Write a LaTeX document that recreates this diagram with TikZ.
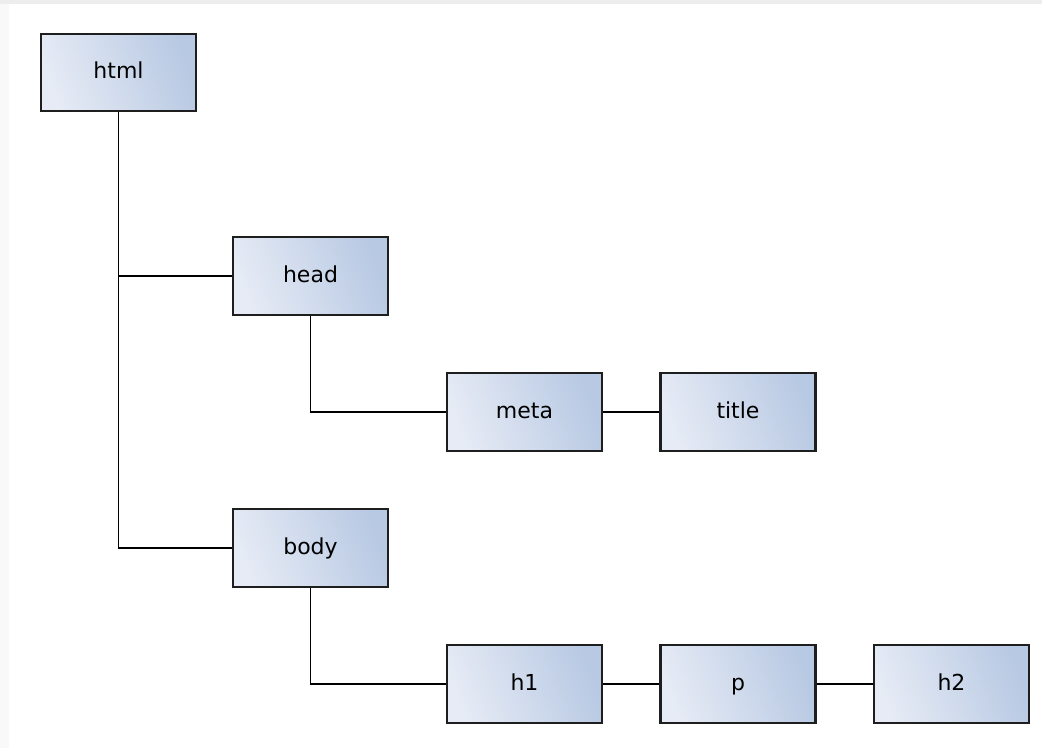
\documentclass[tikz,border=0pt]{standalone}
\usepackage{fontspec}
\setmainfont{DejaVu Sans}
\usetikzlibrary{positioning}
\definecolor{boxlight}{RGB}{230,235,245}
\definecolor{boxdark}{RGB}{184,201,227}
\definecolor{edgegray}{RGB}{30,30,30}

\begin{document}
\begin{tikzpicture}[x=0.75pt,y=-0.75pt,
  tag/.style={draw=edgegray,line width=1.6pt,minimum width=116.25pt,minimum height=58pt,
    inner sep=0pt,shading=axis,left color=boxlight,right color=boxdark,shading angle=110,
    text height=1.95ex,text depth=.2ex,
    font=\fontsize{16.5}{18}\selectfont},
  wire/.style={line width=1.1pt,black}]
\useasboundingbox (0,0) rectangle (1042,748);
\fill[white] (0,0) rectangle (1042,748);
\fill[gray!14] (0,0) rectangle (1042,4);
\fill[gray!5] (0,4) rectangle (9,748);
% nodes of the tree
\node[tag] (html) at (118.5,72.5) {html};
\node[tag] (head) at (310.5,276) {head};
\node[tag] (meta) at (524.5,412) {meta};
\node[tag] (title) at (738,412) {title};
\node[tag] (body) at (310.5,548) {body};
\node[tag] (h1) at (524.5,684) {h1};
\node[tag] (p) at (738,684) {p};
\node[tag] (h2) at (951.5,684) {h2};
% connectors
\draw[wire] (html.south) |- (body.west);
\draw[wire] (html.south |- head.west) -- (head.west);
\draw[wire] (head.south) |- (meta.west);
\draw[wire] (meta) -- (title);
\draw[wire] (body.south) |- (h1.west);
\draw[wire] (h1) -- (p);
\draw[wire] (p) -- (h2);
\end{tikzpicture}
\end{document}
